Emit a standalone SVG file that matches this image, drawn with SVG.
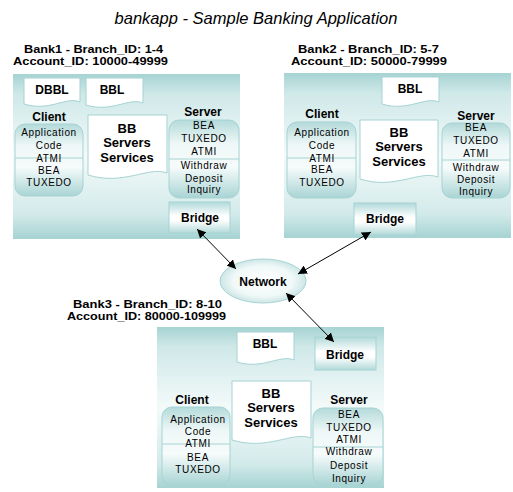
<svg xmlns="http://www.w3.org/2000/svg" width="513" height="492" viewBox="0 0 513 492">
<defs>
<linearGradient id="panel" x1="0" y1="0" x2="0" y2="1">
<stop offset="0" stop-color="#a6d3d3"/><stop offset="0.12" stop-color="#cfe8e8"/><stop offset="0.5" stop-color="#f4fafa"/><stop offset="0.85" stop-color="#d3eaea"/><stop offset="1" stop-color="#a6d3d3"/>
</linearGradient>
<linearGradient id="pill" x1="0" y1="0" x2="0" y2="1">
<stop offset="0" stop-color="#b4dada"/><stop offset="0.3" stop-color="#eef7f7"/><stop offset="0.6" stop-color="#f6fbfb"/><stop offset="1" stop-color="#a9d4d4"/>
</linearGradient>
<linearGradient id="bridge" x1="0" y1="0" x2="0" y2="1">
<stop offset="0" stop-color="#b2d9d9"/><stop offset="0.45" stop-color="#ffffff"/><stop offset="0.6" stop-color="#ffffff"/><stop offset="1" stop-color="#b2d9d9"/>
</linearGradient>
<radialGradient id="net" cx="0.5" cy="0.5" r="0.5">
<stop offset="0" stop-color="#ffffff"/><stop offset="0.7" stop-color="#f0f8f8"/><stop offset="1" stop-color="#cde6e6"/>
</radialGradient>
<marker id="ah" viewBox="0 0 10 10" refX="10" refY="5" markerWidth="9" markerHeight="9" markerUnits="userSpaceOnUse" orient="auto-start-reverse">
<path d="M0,0 L10,5 L0,10 Z" fill="#000"/>
</marker>
<style>
.panel{fill:url(#panel);}
.doc{fill:#fff;stroke:#a6d3d3;stroke-width:1;}
.pill{fill:url(#pill);stroke:#a6d3d3;stroke-width:1;}
.div{stroke:#a6d3d3;stroke-width:1;}
.br{fill:url(#bridge);stroke:#a6d3d3;stroke-width:1;}
.t{font-family:"Liberation Sans",Arial,sans-serif;fill:#000;text-anchor:middle;}
.s{font-size:10px;letter-spacing:0.6px;}
.b{font-size:12px;font-weight:bold;}
.bb{font-size:13px;font-weight:bold;}
.h{font-family:"Liberation Sans",Arial,sans-serif;font-size:11px;font-weight:bold;fill:#000;}
.title{font-family:"Liberation Sans",Arial,sans-serif;font-size:16.5px;font-style:italic;fill:#000;text-anchor:middle;}
.c{stroke:#000;stroke-width:1;fill:none;marker-start:url(#ah);marker-end:url(#ah);}
</style>
</defs>
<rect width="513" height="492" fill="#fff"/>
<text class="title" x="256" y="24">bankapp - Sample Banking Application</text>

<g id="bank1">
<text class="h" x="24" y="53" textLength="139" lengthAdjust="spacingAndGlyphs">Bank1 - Branch_ID: 1-4</text>
<text class="h" x="13" y="65" textLength="155" lengthAdjust="spacingAndGlyphs">Account_ID: 10000-49999</text>
<rect class="panel" x="13" y="74" width="227" height="165"/>
<g id="bank1-dbbl"><path class="doc" d="M24,78 H80 V102 C66,96 50,112 24,104 Z"/><text class="t b" x="52" y="94">DBBL</text></g>
<g id="bank1-bbl"><path class="doc" d="M86,78 H143 V103 C129,97 112,113 86,105 Z"/><text class="t b" x="112" y="94">BBL</text></g>
<g id="bank1-client"><text class="t b" x="49" y="121">Client</text>
<rect class="pill" x="15" y="124" width="68" height="72" rx="10"/><line class="div" x1="15" y1="158" x2="83" y2="158"/>
<text class="t s" x="49" y="136">Application</text><text class="t s" x="49" y="149">Code</text><text class="t s" x="49" y="162">ATMI</text><text class="t s" x="49" y="174">BEA</text><text class="t s" x="49" y="186">TUXEDO</text></g>
<g id="bank1-bb"><path class="doc" d="M88,115 H167 V173 C148,166 124,186 88,175 Z"/><text class="t bb" x="127" y="133">BB</text><text class="t bb" x="127" y="147">Servers</text><text class="t bb" x="127" y="162">Services</text></g>
<g id="bank1-server"><text class="t b" x="203" y="116">Server</text>
<rect class="pill" x="169" y="120" width="70" height="78" rx="10"/><line class="div" x1="169" y1="159" x2="239" y2="159"/>
<text class="t s" x="204" y="129">BEA</text><text class="t s" x="204" y="142">TUXEDO</text><text class="t s" x="204" y="155">ATMI</text><text class="t s" x="204" y="169">Withdraw</text><text class="t s" x="204" y="182">Deposit</text><text class="t s" x="204" y="193">Inquiry</text></g>
<g id="bank1-bridge"><rect class="br" x="169" y="202" width="61" height="31"/><text class="t b" x="200" y="222">Bridge</text></g>
</g>

<g id="bank2">
<text class="h" x="298" y="53" textLength="141" lengthAdjust="spacingAndGlyphs">Bank2 - Branch_ID: 5-7</text>
<text class="h" x="291" y="65" textLength="156" lengthAdjust="spacingAndGlyphs">Account_ID: 50000-79999</text>
<rect class="panel" x="284" y="73" width="227" height="165"/>
<g id="bank2-bbl"><path class="doc" d="M382,77 H439 V102 C425,96 408,112 382,104 Z"/><text class="t b" x="410" y="93">BBL</text></g>
<g id="bank2-client"><text class="t b" x="322" y="118">Client</text>
<rect class="pill" x="287" y="122" width="69" height="76" rx="10"/><line class="div" x1="287" y1="158" x2="356" y2="158"/>
<text class="t s" x="322" y="136">Application</text><text class="t s" x="322" y="149">Code</text><text class="t s" x="322" y="162">ATMI</text><text class="t s" x="322" y="173">BEA</text><text class="t s" x="322" y="186">TUXEDO</text></g>
<g id="bank2-bb"><path class="doc" d="M360,120 H438 V177 C419,170 395,190 360,179 Z"/><text class="t bb" x="399" y="137">BB</text><text class="t bb" x="399" y="151">Servers</text><text class="t bb" x="399" y="166">Services</text></g>
<g id="bank2-server"><text class="t b" x="476" y="120">Server</text>
<rect class="pill" x="442" y="123" width="68" height="75" rx="10"/><line class="div" x1="442" y1="160" x2="510" y2="160"/>
<text class="t s" x="476" y="131">BEA</text><text class="t s" x="476" y="144">TUXEDO</text><text class="t s" x="476" y="157">ATMI</text><text class="t s" x="476" y="171">Withdraw</text><text class="t s" x="476" y="183">Deposit</text><text class="t s" x="476" y="195">Inquiry</text></g>
<g id="bank2-bridge"><rect class="br" x="354" y="203" width="62" height="32"/><text class="t b" x="385" y="223">Bridge</text></g>
</g>

<g id="bank3">
<text class="h" x="73" y="308" textLength="149" lengthAdjust="spacingAndGlyphs">Bank3 - Branch_ID: 8-10</text>
<text class="h" x="67" y="320" textLength="159" lengthAdjust="spacingAndGlyphs">Account_ID: 80000-109999</text>
<rect class="panel" x="157" y="327" width="227" height="161"/>
<g id="bank3-bbl"><path class="doc" d="M237,332 H294 V360 C280,354 263,370 237,362 Z"/><text class="t b" x="265" y="348">BBL</text></g>
<g id="bank3-bridge"><rect class="br" x="315" y="337" width="61" height="33"/><text class="t b" x="345" y="359">Bridge</text></g>
<g id="bank3-client"><text class="t b" x="192" y="404">Client</text>
<rect class="pill" x="162" y="407" width="68" height="78" rx="10"/><line class="div" x1="162" y1="444" x2="230" y2="444"/>
<text class="t s" x="198" y="423">Application</text><text class="t s" x="198" y="435">Code</text><text class="t s" x="198" y="447">ATMI</text><text class="t s" x="198" y="461">BEA</text><text class="t s" x="198" y="473">TUXEDO</text></g>
<g id="bank3-bb"><path class="doc" d="M232,381 H311 V438 C292,431 268,451 232,440 Z"/><text class="t bb" x="271" y="398">BB</text><text class="t bb" x="271" y="412">Servers</text><text class="t bb" x="271" y="427">Services</text></g>
<g id="bank3-server"><text class="t b" x="349" y="404">Server</text>
<rect class="pill" x="313" y="408" width="70" height="77" rx="10"/><line class="div" x1="313" y1="447" x2="383" y2="447"/>
<text class="t s" x="349" y="418">BEA</text><text class="t s" x="349" y="431">TUXEDO</text><text class="t s" x="349" y="443">ATMI</text><text class="t s" x="349" y="455">Withdraw</text><text class="t s" x="349" y="469">Deposit</text><text class="t s" x="349" y="482">Inquiry</text></g>
</g>

<g id="network"><ellipse cx="263" cy="281" rx="43" ry="22" fill="url(#net)" stroke="#a6d3d3"/><text class="t b" x="263" y="286">Network</text></g>

<g id="connectors">
<line class="c" x1="197" y1="229" x2="236" y2="269"/>
<line class="c" x1="371" y1="232" x2="298" y2="274"/>
<line class="c" x1="286" y1="293" x2="334" y2="342"/>
</g>
</svg>
